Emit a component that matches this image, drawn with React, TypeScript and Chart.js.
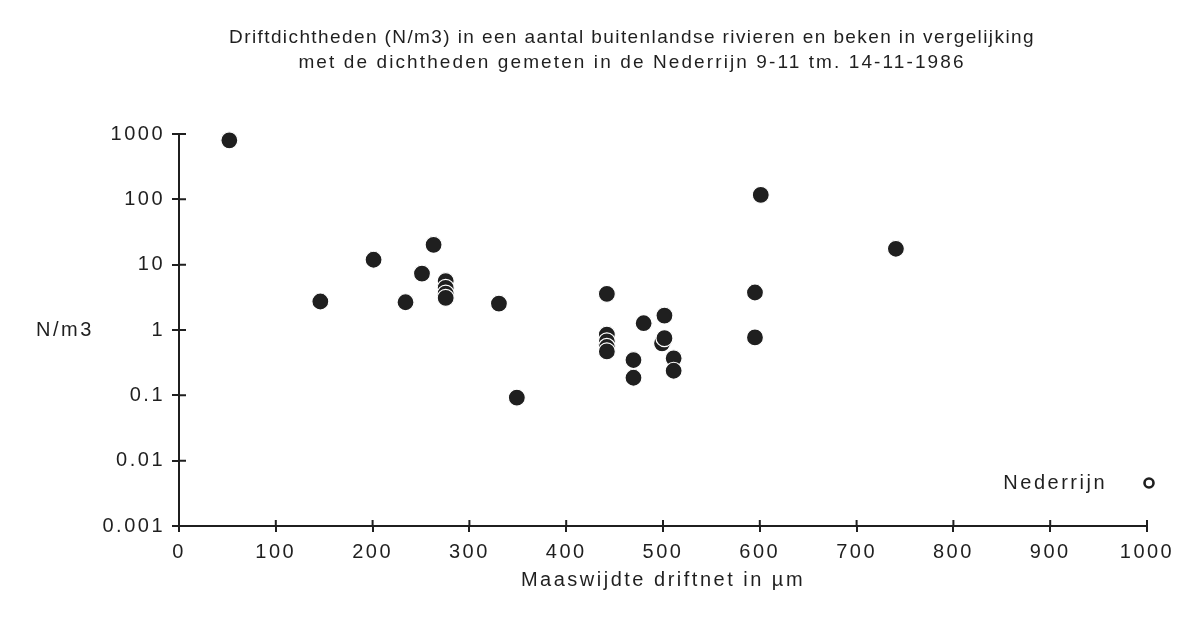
import React, { useEffect, useRef } from 'react';
import { Chart, registerables } from 'chart.js';

Chart.register(...registerables);

// ---- data ----
const titleLine1 = 'Driftdichtheden (N/m3) in een aantal buitenlandse rivieren en beken in vergelijking';
const titleLine2 = 'met de dichtheden gemeten in de Nederrijn 9-11 tm. 14-11-1986';
const xAxisTitle = 'Maaswijdte driftnet in µm';
const yAxisTitle = 'N/m3';
const riversLabel = 'Buitenlandse rivieren en beken';
const nederrijnLabel = 'Nederrijn';

// mesh width (µm) of each measurement
const meshSizes = [
  52, 146, 201, 234, 251, 263, 275.5, 275.5, 275.5, 275.5, 330.5, 349,
  442, 442, 442, 442, 442, 469.5, 469.5, 480, 501.5, 499, 501.5, 511, 511,
  595, 595, 601, 740.6,
];
// drift density (N/m3) of each measurement
const densities = [
  800, 2.73, 11.9, 2.66, 7.3, 20.1, 5.6, 4.4, 3.6, 3.1, 2.54, 0.092,
  3.57, 0.85, 0.67, 0.55, 0.47, 0.347, 0.186, 1.27, 1.66, 0.625, 0.75, 0.368, 0.238,
  3.75, 0.77, 117, 17.5,
];
const nederrijnMesh: number[] = [];
const nederrijnDensity: number[] = [];

const yTicks = [0.001, 0.01, 0.1, 1, 10, 100, 1000];
const xMin = 0;
const xMax = 1000;
const xStep = 100;

// ---- style ----
const INK = '#1f1f1f';
const FONT = "'Liberation Sans', Arial, Helvetica, sans-serif";

const spacingPlugin = {
  id: 'letterSpacing',
  beforeDraw(chart: any) {
    const ctx = chart.ctx;
    const wrap = (obj: any, name: string, sp: string) => {
      if (!obj || obj['__wrapped_' + name]) return;
      const orig = obj[name];
      obj[name] = function (...args: any[]) {
        ctx.save();
        ctx.letterSpacing = sp;
        const r = orig.apply(this, args);
        ctx.restore();
        return r;
      };
      obj['__wrapped_' + name] = true;
    };
    Object.values(chart.scales).forEach((s: any) => {
      s._computeLabelArea = () => undefined; // no clipping of tick labels
      wrap(s, 'drawLabels', '2.5px');
      wrap(s, 'drawTitle', '2.5px');
    });
    wrap(chart.titleBlock, 'draw', '1.4px');
    const sub = (chart.boxes || []).find(
      (b: any) => b !== chart.titleBlock && b.options && b.options.text === titleLine2
    );
    wrap(sub, 'draw', '2.1px');
  },
};

const decorPlugin = {
  id: 'decor',
  beforeDatasetsDraw(chart: any) {
    const { ctx, chartArea, scales } = chart;
    const x = scales.x;
    const y = scales.y;
    ctx.save();
    ctx.strokeStyle = INK;
    ctx.lineWidth = 2;
    ctx.beginPath();
    y.ticks.forEach((t: any) => {
      const py = y.getPixelForValue(t.value);
      ctx.moveTo(chartArea.left, py);
      ctx.lineTo(chartArea.left + 7, py);
    });
    x.ticks.forEach((t: any) => {
      const px = x.getPixelForValue(t.value);
      ctx.moveTo(px, chartArea.bottom);
      ctx.lineTo(px, chartArea.bottom - 6);
    });
    ctx.stroke();
    ctx.letterSpacing = '2.5px';
    ctx.font = `20px ${FONT}`;
    ctx.fillStyle = INK;
    ctx.textBaseline = 'middle';
    ctx.textAlign = 'left';
    ctx.fillText(yAxisTitle, 36, y.getPixelForValue(1));
    ctx.restore();
  },
  afterDatasetsDraw(chart: any) {
    const { ctx, chartArea } = chart;
    const ds = chart.data.datasets[1];
    const cx = chartArea.right + 2;
    const cy = chartArea.bottom - 43;
    ctx.save();
    ctx.letterSpacing = '2.5px';
    ctx.font = `20px ${FONT}`;
    ctx.fillStyle = INK;
    ctx.textBaseline = 'middle';
    ctx.textAlign = 'right';
    ctx.fillText(ds.label, cx - 42, cy);
    ctx.beginPath();
    ctx.arc(cx, cy, ds.pointRadius, 0, Math.PI * 2);
    ctx.fillStyle = ds.pointBackgroundColor;
    ctx.fill();
    ctx.lineWidth = ds.pointBorderWidth;
    ctx.strokeStyle = ds.pointBorderColor;
    ctx.stroke();
    ctx.restore();
  },
};

export default function App() {
  const canvasRef = useRef<HTMLCanvasElement | null>(null);

  useEffect(() => {
    if (!canvasRef.current) return;
    Chart.defaults.font.family = FONT;
    const chart = new Chart(canvasRef.current, {
      type: 'scatter',
      data: {
        datasets: [
          {
            label: riversLabel,
            data: meshSizes.map((m, i) => ({ x: m, y: densities[i] })),
            pointRadius: 8.5,
            pointBackgroundColor: INK,
            pointBorderColor: '#ffffff',
            pointBorderWidth: 1.2,
            showLine: false,
            clip: false,
          },
          {
            label: nederrijnLabel,
            data: nederrijnMesh.map((m, i) => ({ x: m, y: nederrijnDensity[i] })),
            pointRadius: 4.5,
            pointBackgroundColor: '#ffffff',
            pointBorderColor: INK,
            pointBorderWidth: 2.6,
            showLine: false,
            clip: false,
          },
        ],
      },
      options: {
        animation: false,
        responsive: false,
        events: [],
        layout: { padding: { left: 117, right: 31, top: 0, bottom: 0 } },
        plugins: {
          legend: { display: false },
          tooltip: { enabled: false },
          title: {
            display: true,
            text: titleLine1,
            color: INK,
            fullSize: true,
            font: { family: FONT, size: 19, weight: 'normal', lineHeight: '25px' },
            padding: { top: 25, bottom: 0 },
          },
          subtitle: {
            display: true,
            text: titleLine2,
            color: INK,
            fullSize: true,
            font: { family: FONT, size: 19, weight: 'normal', lineHeight: '25px' },
            padding: { top: 0, bottom: 59 },
          },
        },
        scales: {
          x: {
            type: 'linear',
            min: xMin,
            max: xMax,
            afterFit: (s: any) => {
              s.height = 91;
            },
            ticks: {
              stepSize: xStep,
              autoSkip: false,
              maxRotation: 0,
              padding: 8,
              color: INK,
              font: { family: FONT, size: 20 },
              callback: (v: any) => String(v),
            },
            grid: {
              drawOnChartArea: false,
              drawTicks: true,
              tickLength: 6,
              color: INK,
              lineWidth: 2,
            },
            border: { color: INK, width: 2 },
            title: {
              display: true,
              text: xAxisTitle,
              color: INK,
              font: { family: FONT, size: 20 },
              padding: { top: 0, bottom: 25 },
            },
          },
          y: {
            type: 'logarithmic',
            min: yTicks[0],
            max: yTicks[yTicks.length - 1],
            afterBuildTicks: (s: any) => {
              s.ticks = yTicks.map((v) => ({ value: v }));
            },
            afterFit: (s: any) => {
              s.width = 62;
            },
            ticks: {
              autoSkip: false,
              padding: 7,
              color: INK,
              font: { family: FONT, size: 20 },
              callback: (v: any) => String(v),
            },
            grid: {
              drawOnChartArea: false,
              drawTicks: true,
              tickLength: 7,
              color: INK,
              lineWidth: 2,
            },
            border: { color: INK, width: 2 },
          },
        },
      },
      plugins: [spacingPlugin, decorPlugin],
    } as any);
    return () => chart.destroy();
  }, []);

  return (
    <div style={{ position: 'absolute', left: 0, top: 0, width: 1178, height: 617, background: '#fff' }}>
      <canvas ref={canvasRef} width={1178} height={617} />
    </div>
  );
}
